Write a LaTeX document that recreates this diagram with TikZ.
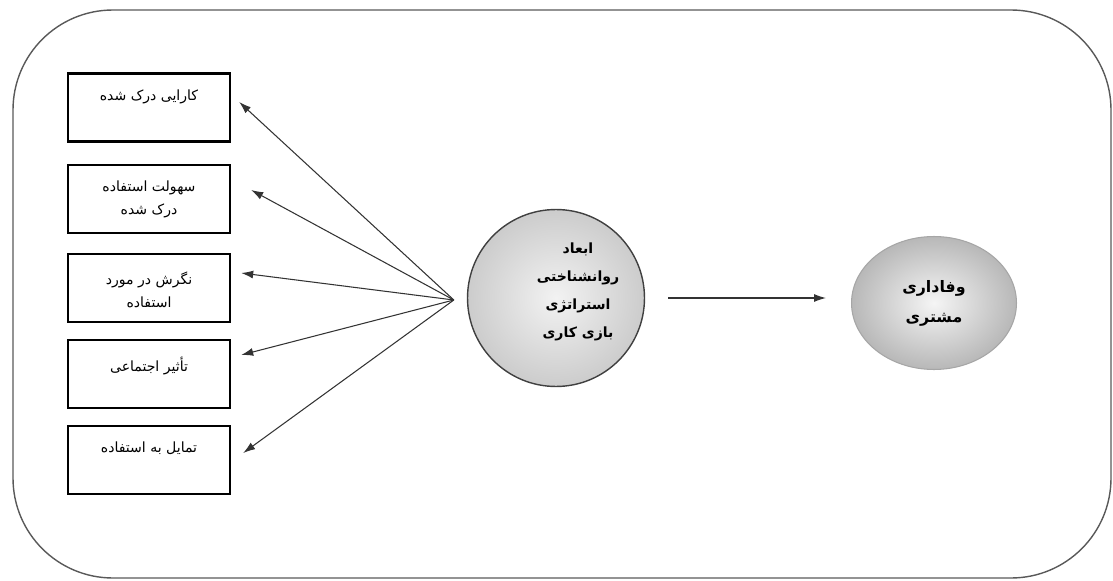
\documentclass[tikz,border=0pt]{standalone}
\usepackage{fontspec}
\newfontfamily\fa[Script=Arabic]{DejaVu Sans}
\TeXXeTstate=1
\usetikzlibrary{arrows.meta,positioning,shapes.geometric}

\newcommand{\rl}[1]{\beginR #1\endR}

\begin{document}
\begin{tikzpicture}[x=0.02cm,y=-0.02cm,
    frame/.style={draw=black!65, line width=0.8pt, rounded corners=2cm},
    factor/.style={draw, line width=1.4pt, minimum width=3.24cm, minimum height=1.36cm, inner sep=0pt},
    factortxt/.style={font=\fa\fontsize{8}{13}\selectfont, align=center, inner sep=1pt},
    core/.style={circle, draw=black!75, line width=0.8pt, minimum size=3.54cm, inner sep=0pt,
      inner color=black!5, outer color=black!20},
    coretxt/.style={font=\fa\bfseries\fontsize{8}{16}\selectfont, align=center, inner sep=1pt},
    outcome/.style={ellipse, draw=black!35, line width=0.6pt, minimum width=3.3cm, minimum height=2.66cm,
      inner sep=0pt, inner color=black!4, outer color=black!28,
      font=\fa\bfseries\fontsize{9}{17}\selectfont, align=center},
    arr/.style={draw=black!80, line width=0.6pt, -{Latex[length=2.4mm,width=1.6mm]}}]

  \useasboundingbox (0,0) rectangle (1113,581);

  % The rounded frame round everything
  \draw[frame] (13,10) rectangle (1111,578);

  % The five factors on the left
  \node[factor] (b1) at (149,107.5) {};
  \node[factor] (b2) at (149,199) {};
  \node[factor] (b3) at (149,288) {};
  \node[factor] (b4) at (149,374) {};
  \node[factor] (b5) at (149,460) {};

  \node[factortxt, below=0.3cm of b1.north] (t1) {\rl{کارایی درک شده}};
  \node[factortxt, below=0.3cm of b2.north] (t2) {\rl{سهولت استفاده}\\\rl{درک شده}};
  \node[factortxt, below=0.34cm of b3.north] (t3) {\rl{نگرش در مورد}\\\rl{استفاده}};
  \node[factortxt, below=0.32cm of b4.north] (t4) {\rl{تأثیر اجتماعی}};
  \node[factortxt, below=0.3cm of b5.north] (t5) {\rl{تمایل به استفاده}};

  % The two circles
  \node[core] (c1) at (556,298) {};
  \node[coretxt] (c1t) at ([xshift=0.44cm,yshift=0.12cm]c1.center)
    {\rl{ابعاد}\\\rl{روانشناختی}\\\rl{استراتژی}\\\rl{بازی کاری}};
  \node[outcome] (c2) at (934,303) {\rl{وفاداری}\\\rl{مشتری}};

  % Fan of arrows out to the factors
  \coordinate (hub) at ([shift={(-0.26cm,-0.04cm)}]c1.west);
  \draw[arr] (hub) -- ([shift={(0.16cm,0.11cm)}]b1.east);
  \draw[arr] (hub) -- ([shift={(0.4cm,0.18cm)}]b2.east);
  \draw[arr] (hub) -- ([shift={(0.2cm,0.3cm)}]b3.east);
  \draw[arr] (hub) -- ([shift={(0.2cm,0.38cm)}]b4.east);
  \draw[arr] (hub) -- ([shift={(0.24cm,0.14cm)}]b5.east);

  \draw[arr, shorten <=0.46cm] (c1.east) -- ([xshift=-0.5cm]c1.east -| c2.west);

\end{tikzpicture}
\end{document}
